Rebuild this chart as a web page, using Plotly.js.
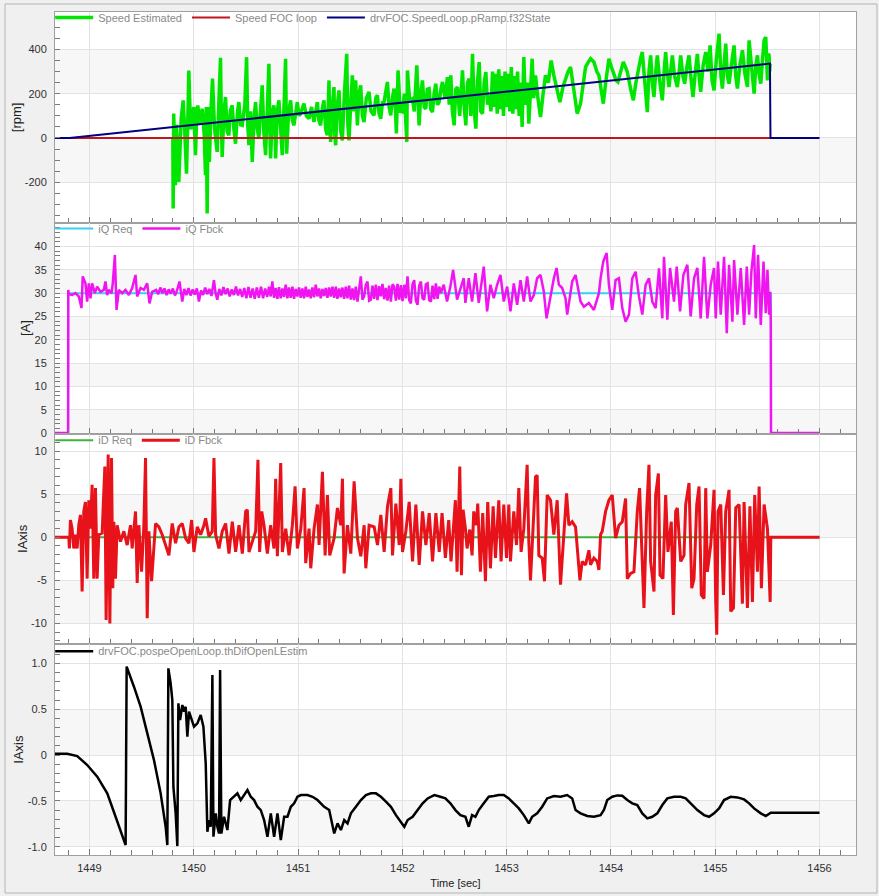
<!DOCTYPE html>
<html>
<head>
<meta charset="utf-8">
<script src="https://cdn.plot.ly/plotly-3.0.1.min.js"></script>
<style>
  html, body { margin: 0; padding: 0; background: #f0f0f0; }
  #plot_window { width: 879px; height: 896px; }
</style>
</head>
<body>
<div id="plot_window"></div>
<script>
// ---- time axis ----
const timeTicks = [1449, 1450, 1451, 1452, 1453, 1454, 1455, 1456];
const timeTickText = ['1449', '1450', '1451', '1452', '1453', '1454', '1455', '1456'];

// ---- panel 1 : speed [rpm] ----
const speedTicks = [-200, 0, 200, 400];
const speedTickText = ['-200', '0', '200', '400'];

const speedEstT = [1449.800, 1449.803, 1449.808, 1449.825, 1449.835, 1449.857, 1449.880, 1449.899, 1449.915, 1449.931,
    1449.945, 1449.953, 1449.970, 1449.985, 1450.000, 1450.017, 1450.030, 1450.039, 1450.060, 1450.081,
    1450.100, 1450.113, 1450.120, 1450.129, 1450.137, 1450.150, 1450.165, 1450.180, 1450.200, 1450.225,
    1450.240, 1450.257, 1450.265, 1450.273, 1450.290, 1450.305, 1450.320, 1450.337, 1450.350, 1450.369,
    1450.385, 1450.401, 1450.420, 1450.433, 1450.450, 1450.465, 1450.490, 1450.507, 1450.518, 1450.529,
    1450.545, 1450.561, 1450.580, 1450.593, 1450.610, 1450.625, 1450.640, 1450.657, 1450.672, 1450.689,
    1450.705, 1450.721, 1450.730, 1450.737, 1450.755, 1450.769, 1450.780, 1450.785, 1450.800, 1450.817,
    1450.835, 1450.849, 1450.865, 1450.881, 1450.891, 1450.910, 1450.929, 1450.945, 1450.961, 1450.980,
    1450.993, 1451.010, 1451.025, 1451.045, 1451.057, 1451.080, 1451.105, 1451.130, 1451.153, 1451.170,
    1451.185, 1451.200, 1451.217, 1451.235, 1451.249, 1451.265, 1451.281, 1451.290, 1451.297, 1451.305,
    1451.313, 1451.330, 1451.345, 1451.352, 1451.361, 1451.375, 1451.393, 1451.410, 1451.425, 1451.445,
    1451.467, 1451.478, 1451.489, 1451.505, 1451.521, 1451.537, 1451.553, 1451.569, 1451.585, 1451.601,
    1451.617, 1451.633, 1451.655, 1451.681, 1451.700, 1451.729, 1451.745, 1451.761, 1451.777, 1451.793,
    1451.810, 1451.825, 1451.840, 1451.857, 1451.873, 1451.889, 1451.905, 1451.921, 1451.935, 1451.943,
    1451.951, 1451.959, 1451.980, 1452.001, 1452.020, 1452.043, 1452.049, 1452.070, 1452.097, 1452.115,
    1452.139, 1452.150, 1452.161, 1452.177, 1452.193, 1452.210, 1452.225, 1452.240, 1452.257, 1452.273,
    1452.289, 1452.305, 1452.321, 1452.337, 1452.353, 1452.370, 1452.385, 1452.410, 1452.433, 1452.450,
    1452.465, 1452.480, 1452.497, 1452.513, 1452.529, 1452.550, 1452.577, 1452.592, 1452.609, 1452.625,
    1452.641, 1452.657, 1452.673, 1452.690, 1452.705, 1452.720, 1452.737, 1452.753, 1452.769, 1452.785,
    1452.801, 1452.817, 1452.833,
    1452.850, 1452.865, 1452.880, 1452.895, 1452.910, 1452.925, 1452.940, 1452.955, 1452.970, 1452.985,
    1453.000, 1453.015, 1453.030, 1453.045, 1453.060, 1453.075, 1453.090, 1453.105, 1453.120, 1453.135,
    1453.149, 1453.165, 1453.180, 1453.200, 1453.213, 1453.230, 1453.245, 1453.260, 1453.277, 1453.300,
    1453.325, 1453.350, 1453.373, 1453.400, 1453.427, 1453.453, 1453.480, 1453.511, 1453.540, 1453.565,
    1453.590, 1453.613, 1453.645, 1453.677, 1453.709, 1453.740, 1453.757, 1453.780, 1453.805, 1453.837,
    1453.865, 1453.885, 1453.910, 1453.927, 1453.950, 1453.981, 1454.005, 1454.029, 1454.050, 1454.067,
    1454.090, 1454.119, 1454.140, 1454.157, 1454.190, 1454.215, 1454.240, 1454.269, 1454.285, 1454.301,
    1454.325, 1454.349, 1454.365, 1454.381, 1454.397, 1454.413, 1454.430, 1454.445, 1454.470, 1454.493,
    1454.510, 1454.525, 1454.540, 1454.557, 1454.573, 1454.589, 1454.610, 1454.637, 1454.655, 1454.669,
    1454.690, 1454.707, 1454.728, 1454.749, 1454.770, 1454.787, 1454.810, 1454.829, 1454.845, 1454.861,
    1454.885, 1454.909, 1454.930, 1454.951, 1454.970, 1454.989, 1455.010, 1455.037, 1455.055, 1455.069,
    1455.085, 1455.101, 1455.117, 1455.133, 1455.155, 1455.181, 1455.197, 1455.213, 1455.237, 1455.261,
    1455.285, 1455.309, 1455.325, 1455.350, 1455.373, 1455.390, 1455.405, 1455.420, 1455.437, 1455.453,
    1455.469, 1455.485, 1455.495, 1455.501, 1455.510, 1455.517, 1455.522, 1455.527];
const speedEstV = [0, -319, 110, -214, 60, -199, 90, 170, 20, -161,
    120, 305, 40, 57, 140, -78, 120, 147, 60, 132,
    20, -168, 140, -341, 140, -108, 120, 268, 40, -63,
    150, 362, 80, -86, 120, 185, 30, 12, 120, 147,
    40, -26, 120, 162, 60, 57, 150, 365, 60, -33,
    120, -108, 100, 162, 40, -3, 120, 238, 30, -78,
    120, 335, 50, -93, 120, 147, 20, -93, 120, 170,
    30, -78, 130, 358, -71, 120, 170, 80, 57, 130,
    162, 100, 110, 140, 155, 100, 87, 140, 72, 120,
    162, 80, 57, 140, 170, 40, 12, 150, 260, 40,
    -18, 150, 230, 20, -33, 140, 215, 30, -11, 200,
    380, 60, -11, 150, 283, 120, 260, 57, 200, 238,
    100, 72, 180, 208, 120, 102, 180, 193, 110, 87,
    160, 162, 200, 253, 140, 102, 180, 223, 120, 20,
    150, 305, 120, 118, 200, -18, 305, 170, 177, 120,
    328, 150, 57, 200, 260, 140, 132, 220, 223, 130,
    117, 200, 245, 150, 162, 220, 253, 180, 275, 150,
    283, 120, 57, 220, 230, 100, 305, 150, 57, 250,
    268, 100, 380, 120, 42, 250, 343, 120, 110, 250,
    298, 150, 193,
    120, 300, 140, 290, 110, 310, 130, 280, 100, 300,
    140, 290, 120, 320, 110, 280, 130, 300, 100, 250,
    50, 365, 150, 250, 65, 200, 358, 180, 283, 180,
    95, 200, 283, 250, 350, 283, 220, 162, 230, 268,
    300, 320, 223, 110, 155, 250, 320, 340, 358, 343,
    300, 283, 200, 155, 250, 358, 320, 283, 260, 253,
    300, 343, 320, 298, 220, 170, 250, 328, 360, 388,
    250, 117, 300, 373, 250, 185, 300, 373, 250, 170,
    300, 388, 300, 230, 300, 373, 280, 230, 300, 373,
    280, 245, 320, 373, 260, 185, 300, 380, 280, 208,
    330, 388, 300, 418, 260, 215, 350, 471, 280, 223,
    330, 426, 280, 245, 330, 418, 280, 223, 330, 396,
    290, 230, 441, 300, 200, 330, 373, 290, 245, 350,
    441, 456, 300, 260, 380, 373, 300, 335];

const speedFocT = [1448.67, 1455.53];
const speedFocV = [0, 0];

const rampT = [1448.67, 1448.81, 1455.525, 1455.53, 1456.0];
const rampV = [0, 0, 336, 0, 0];

// ---- panel 2 : iQ [A] ----
const iqTicks = [0, 5, 10, 15, 20, 25, 30, 35, 40];
const iqTickText = ['0', '5', '10', '15', '20', '25', '30', '35', '40'];

const iqReqT = [1448.67, 1448.796, 1448.797, 1455.533, 1455.535, 1456.0];
const iqReqV = [0, 0, 30, 30, 0, 0];

const iqFbckT = [1448.670, 1448.796, 1448.797,
    1448.802, 1448.834, 1448.866, 1448.898, 1448.924, 1448.936, 1448.962, 1448.978, 1448.994, 1449.010,
    1449.026, 1449.052, 1449.074, 1449.106, 1449.138, 1449.154, 1449.170, 1449.186, 1449.212, 1449.224,
    1449.244, 1449.260, 1449.282, 1449.314, 1449.346, 1449.378, 1449.410, 1449.442, 1449.458, 1449.490,
    1449.522, 1449.554, 1449.576, 1449.602,
    1449.640, 1449.660, 1449.680, 1449.700, 1449.720, 1449.740, 1449.760, 1449.780, 1449.800, 1449.820,
    1449.840, 1449.864, 1449.880, 1449.890, 1449.910, 1449.930, 1449.950, 1449.970, 1449.990, 1450.010,
    1450.030, 1450.050, 1450.070, 1450.090, 1450.110, 1450.130, 1450.150, 1450.170, 1450.194, 1450.210,
    1450.226, 1450.245, 1450.265, 1450.285, 1450.305, 1450.325, 1450.345, 1450.365, 1450.385, 1450.405,
    1450.425, 1450.445, 1450.465, 1450.485, 1450.505, 1450.525, 1450.545, 1450.565, 1450.585, 1450.605,
    1450.625, 1450.645, 1450.665, 1450.685, 1450.705, 1450.722, 1450.738, 1450.754, 1450.770, 1450.786,
    1450.802, 1450.818, 1450.834, 1450.850, 1450.866, 1450.882, 1450.898, 1450.914, 1450.930, 1450.946,
    1450.962, 1450.978, 1450.994, 1451.010, 1451.026, 1451.042, 1451.058, 1451.074, 1451.090, 1451.106,
    1451.122, 1451.138, 1451.154, 1451.170, 1451.186, 1451.202, 1451.218, 1451.234, 1451.250, 1451.266,
    1451.282, 1451.298, 1451.314, 1451.330, 1451.346, 1451.362, 1451.378, 1451.394, 1451.410, 1451.426,
    1451.442, 1451.458, 1451.474, 1451.490, 1451.506, 1451.522, 1451.538, 1451.554, 1451.570, 1451.586,
    1451.602, 1451.618, 1451.634, 1451.650, 1451.666, 1451.682, 1451.698, 1451.714, 1451.730, 1451.746,
    1451.762, 1451.778, 1451.794, 1451.810, 1451.826, 1451.842, 1451.858, 1451.874, 1451.890, 1451.906,
    1451.922, 1451.938, 1451.954, 1451.970, 1451.986, 1452.002, 1452.018, 1452.034, 1452.050, 1452.066,
    1452.082, 1452.098, 1452.114, 1452.130, 1452.146, 1452.162, 1452.178, 1452.194, 1452.210, 1452.226,
    1452.242, 1452.258, 1452.274, 1452.290, 1452.306, 1452.322, 1452.338, 1452.354, 1452.370,
    1452.397, 1452.429, 1452.461, 1452.487, 1452.525, 1452.589, 1452.605, 1452.637, 1452.669, 1452.701,
    1452.733, 1452.765, 1452.781, 1452.813, 1452.845, 1452.877, 1452.909, 1452.941, 1452.973, 1453.005,
    1453.037, 1453.069, 1453.101, 1453.133, 1453.165, 1453.197, 1453.229, 1453.261, 1453.293, 1453.325,
    1453.357, 1453.383, 1453.421, 1453.453, 1453.479, 1453.501, 1453.533, 1453.565, 1453.581, 1453.629,
    1453.661, 1453.709, 1453.741, 1453.789, 1453.837, 1453.885, 1453.901, 1453.927, 1453.959, 1453.981,
    1454.013, 1454.045, 1454.077, 1454.109, 1454.141, 1454.173, 1454.205, 1454.237, 1454.269, 1454.301,
    1454.333, 1454.365, 1454.397, 1454.429, 1454.461, 1454.493, 1454.509, 1454.541, 1454.567, 1454.605,
    1454.631, 1454.663, 1454.695, 1454.733, 1454.765, 1454.797, 1454.829, 1454.861, 1454.893, 1454.925,
    1454.957, 1454.989, 1455.005, 1455.027, 1455.053, 1455.085, 1455.111, 1455.133, 1455.165, 1455.181,
    1455.213, 1455.245, 1455.277, 1455.303, 1455.325, 1455.347, 1455.373, 1455.389, 1455.411, 1455.437,
    1455.463, 1455.485, 1455.501, 1455.517, 1455.527, 1455.533,
    1455.535, 1456.000];
const iqFbckV = [0, 0, 30.7,
    29.8, 29.6, 30.0, 29.3, 26.8, 33.6, 32.1, 28.2, 32.1, 28.9,
    32.1, 30.0, 31.4, 30.3, 30.7, 32.5, 29.6, 30.7, 30.0, 32.1,
    38.2, 26.4, 30.7, 30.0, 30.7, 29.6, 31.1, 33.9, 29.3, 31.1,
    30.7, 32.1, 27.8, 30.3,
    30.7, 29.8, 31.2, 30.0, 31.0, 29.6, 30.8, 29.9, 31.0, 29.5,
    30.6, 32.5, 29.4, 28.2, 30.9, 29.6, 31.1, 29.5, 30.8, 29.7,
    31.0, 28.2, 30.6, 29.6, 31.2, 29.8, 30.9, 29.4, 32.8, 29.9,
    28.6, 30.9, 29.5, 31.3, 29.8, 31.0, 29.3, 30.8, 29.6, 31.4,
    29.5, 30.9, 29.2, 31.1, 28.9, 31.3, 29.0, 31.0, 28.8, 31.2,
    29.0, 31.4, 28.9, 31.0, 29.2, 31.4, 29.3, 32.5, 29.0, 31.1,
    28.8, 31.3, 28.9, 31.0, 29.2, 31.8, 28.9, 31.2, 29.0, 31.4,
    28.8, 30.9, 29.3, 31.2, 29.0, 31.0, 28.9, 31.4, 29.2, 30.8,
    28.9, 31.2, 29.1, 31.8, 29.3, 31.0, 28.9, 30.9, 29.4, 31.1,
    29.0, 31.2, 29.3, 31.4, 29.0, 31.4, 28.8, 31.0, 29.1, 31.2,
    28.8, 31.4, 28.9, 31.6, 28.6, 31.0, 28.5, 31.4, 28.2, 31.3,
    33.6, 28.6, 29.3, 31.8, 32.5, 28.4, 28.6, 31.6, 28.8, 31.8,
    28.5, 31.5, 29.3, 32.0, 28.7, 31.1, 28.4, 31.6, 28.2, 31.9,
    31.4, 28.4, 32.0, 28.6, 31.7, 28.3, 31.8, 28.9, 33.6, 28.5,
    27.8, 31.9, 32.8, 28.4, 27.5, 31.6, 32.5, 28.9, 28.6, 31.9,
    32.1, 28.5, 28.2, 31.6, 28.7, 32.1, 28.8, 31.4, 30.0,
    31.8, 28.2, 31.4, 35.0, 28.6, 33.2, 27.9, 33.2, 28.2, 34.3,
    27.9, 32.5, 35.7, 26.1, 31.8, 28.9, 31.8, 33.9, 28.2, 31.4,
    26.1, 32.1, 27.5, 32.8, 28.2, 33.6, 28.2, 29.6, 33.2, 33.9,
    30.3, 24.6, 29.6, 33.2, 35.4, 31.8, 31.1, 28.9, 25.4, 32.5,
    33.9, 28.2, 27.1, 27.9, 26.4, 30.0, 33.2, 36.8, 38.6, 31.8,
    26.4, 32.8, 33.2, 26.8, 23.9, 25.4, 33.2, 34.6, 29.3, 25.4,
    31.8, 33.2, 28.2, 26.8, 35.3, 24.6, 37.8, 24.3, 35.4, 28.2,
    35.7, 26.1, 33.9, 36.1, 25.0, 33.2, 35.4, 24.6, 37.8, 24.6,
    31.8, 35.4, 24.6, 36.8, 25.4, 37.8, 21.4, 36.1, 23.9, 37.1,
    25.4, 35.4, 23.2, 35.7, 25.4, 34.6, 40.3, 24.6, 38.2, 23.2,
    36.8, 25.7, 35.0, 25.4, 30.3, 23.9,
    0, 0];

// ---- panel 3 : iD ----
const idTicks = [-10, -5, 0, 5, 10];
const idTickText = ['-10', '-5', '0', '5', '10'];

const idReqT = [1448.67, 1456.0];
const idReqV = [0, 0];

const idFbckT = [1448.670, 1448.802,
    1448.808, 1448.818, 1448.834, 1448.850, 1448.866, 1448.882, 1448.898, 1448.914, 1448.930, 1448.946,
    1448.962, 1448.978, 1448.994, 1449.010, 1449.026, 1449.042, 1449.058, 1449.074, 1449.090, 1449.122,
    1449.148, 1449.160, 1449.180, 1449.196, 1449.212, 1449.224, 1449.234, 1449.250, 1449.266, 1449.298,
    1449.330, 1449.362, 1449.394, 1449.410, 1449.442, 1449.458, 1449.474, 1449.500, 1449.522, 1449.538,
    1449.554, 1449.570, 1449.596, 1449.612, 1449.634, 1449.666, 1449.698, 1449.730, 1449.762, 1449.794,
    1449.826, 1449.858, 1449.890, 1449.922, 1449.954, 1449.980, 1450.002, 1450.034, 1450.066, 1450.098,
    1450.114, 1450.146, 1450.178, 1450.194, 1450.210, 1450.242, 1450.274, 1450.306, 1450.338, 1450.370,
    1450.402, 1450.434, 1450.466, 1450.498, 1450.514, 1450.530, 1450.562, 1450.594, 1450.616, 1450.632,
    1450.652, 1450.674, 1450.706, 1450.738, 1450.770, 1450.786, 1450.802, 1450.834, 1450.850, 1450.882,
    1450.914, 1450.946, 1450.972, 1450.994, 1451.026, 1451.058, 1451.074, 1451.106, 1451.122, 1451.154,
    1451.186, 1451.202, 1451.234, 1451.260, 1451.282, 1451.304, 1451.346, 1451.378, 1451.410, 1451.426,
    1451.442, 1451.474, 1451.506, 1451.538, 1451.570, 1451.602, 1451.634, 1451.650, 1451.682, 1451.730,
    1451.762, 1451.794, 1451.826, 1451.858, 1451.890, 1451.906, 1451.938, 1451.970, 1451.986, 1452.002,
    1452.034, 1452.066, 1452.098, 1452.130, 1452.162, 1452.194, 1452.226, 1452.258, 1452.290, 1452.322,
    1452.354,
    1452.381, 1452.413, 1452.445, 1452.467, 1452.493, 1452.509, 1452.525, 1452.551, 1452.567, 1452.583,
    1452.605, 1452.621, 1452.647, 1452.669, 1452.685, 1452.711, 1452.723, 1452.749, 1452.771, 1452.797,
    1452.819, 1452.845, 1452.871, 1452.893, 1452.925, 1452.947, 1452.973, 1452.999, 1453.021, 1453.037,
    1453.069, 1453.095, 1453.117, 1453.139, 1453.165, 1453.197, 1453.213, 1453.229, 1453.255, 1453.277,
    1453.293, 1453.309, 1453.341, 1453.363, 1453.389, 1453.421, 1453.453, 1453.485, 1453.517, 1453.549,
    1453.575, 1453.597, 1453.629, 1453.661, 1453.677, 1453.703, 1453.725, 1453.757, 1453.789, 1453.805,
    1453.837, 1453.869, 1453.885, 1453.901, 1453.917, 1453.949, 1453.981, 1454.013, 1454.045, 1454.077,
    1454.109, 1454.141, 1454.157, 1454.189, 1454.221, 1454.253, 1454.275, 1454.291, 1454.317, 1454.343,
    1454.365, 1454.381, 1454.413, 1454.429, 1454.455, 1454.471, 1454.499, 1454.525, 1454.547, 1454.579,
    1454.599, 1454.621, 1454.637, 1454.669, 1454.701, 1454.717, 1454.749, 1454.775, 1454.797, 1454.823,
    1454.845, 1454.867, 1454.893, 1454.909, 1454.925, 1454.957, 1454.989, 1455.005, 1455.015, 1455.027,
    1455.053, 1455.079, 1455.101, 1455.133, 1455.149, 1455.175, 1455.197, 1455.229, 1455.261, 1455.277,
    1455.309, 1455.333, 1455.357, 1455.379, 1455.405, 1455.421, 1455.443, 1455.469, 1455.501, 1455.527,
    1455.533, 1456.000];
const idFbckV = [0, 0,
    -1.3, 2.0, 1.0, -1.3, 0.3, -1.3, 1.4, 2.6, -6.3, 3.0,
    4.1, -4.8, 4.3, 1.0, 6.1, -4.8, 5.7, -4.8, 0.3, 0.5,
    8.2, -9.6, 9.6, -10.0, 9.2, -5.9, 1.8, -4.8, 1.4, -0.5,
    0.7, -0.9, 1.4, -1.3, 3.0, -5.3, 1.4, -4.0, 1.4, 9.2,
    -9.4, 0.7, -5.1, -2.4, 1.6, 1.2, 0.3, -0.9, -2.1, 1.6,
    -0.7, 1.2, 1.6, -0.1, -0.7, 2.0, -1.7, 1.2, 0.3, 1.4,
    2.2, 0.1, 0.7, 9.2, 0.3, -1.3, 0.7, 1.6, -1.9, 1.8,
    -1.7, 1.4, -1.9, 3.0, 3.2, -1.7, -0.5, 0.7, 9.0, -1.7,
    3.0, 1.4, -1.9, 1.4, -1.3, 6.8, -2.2, 8.6, -1.7, 1.0,
    -2.1, 1.4, 5.9, -1.3, 0.9, 5.7, -3.0, 1.0, -3.6, 1.0,
    3.8, -0.9, 7.6, -2.1, 4.9, -2.1, -0.1, 3.4, 1.4, 6.8,
    -4.2, 1.4, -1.9, 6.5, -0.1, -2.2, 1.4, -3.6, 1.4, 1.2,
    -0.9, 2.6, -1.7, 3.6, 5.7, -2.1, 3.9, -0.9, 6.8, -1.7,
    0.7, 4.1, -2.8, 3.8, -3.2, 3.0, -0.9, 2.8, -2.8, 2.8,
    -1.7,
    2.8, -2.4, 2.0, -2.8, 1.0, 4.3, -4.0, 8.2, -4.4, 3.2,
    1.0, -1.3, 0.9, -2.1, 3.0, 1.4, 3.9, -4.0, 2.8, -5.1,
    4.1, -3.6, 3.6, -2.4, 4.3, -2.8, 3.8, -2.4, 3.8, -2.8,
    3.0, -0.9, 5.7, -1.7, 1.0, 8.4, -0.5, -5.0, 1.4, 7.0,
    7.2, -2.1, -2.4, -5.1, 4.9, 4.3, 0.3, 4.3, -5.5, 1.0,
    5.1, 1.4, 1.8, 1.2, -0.9, -5.0, -2.8, -3.2, -1.5, -3.2,
    -2.4, -2.8, -3.8, 0.3, 0.7, 3.0, 4.3, 4.9, -0.1, 1.4,
    1.8, 4.5, -4.8, -4.2, -4.0, 3.0, 5.7, 1.0, -8.2, 3.0,
    8.4, -2.8, -6.3, 4.9, 7.4, -4.4, -4.8, 4.9, -1.7, 1.8,
    -9.0, 3.0, 3.4, -2.8, -2.1, 3.8, 6.3, -5.9, -4.8, 3.8,
    5.9, -6.7, -7.1, 5.7, -4.0, -0.9, 5.5, -7.5, -11.3, 3.0,
    3.8, -6.7, 3.0, 5.5, -8.6, -8.2, 3.4, 3.8, -7.7, 4.1,
    -8.2, 3.6, -7.5, 4.9, -4.0, 5.9, -5.9, 3.8, 1.0, -7.5,
    0, 0];

// ---- panel 4 : open loop angle difference ----
const angTicks = [-1, -0.5, 0, 0.5, 1];
const angTickText = ['-1.0', '-0.5', '0', '0.5', '1.0'];

const angT = [1448.669, 1448.787, 1448.883, 1448.979, 1449.075, 1449.171, 1449.251, 1449.315, 1449.347, 1449.357,
    1449.395, 1449.427, 1449.491, 1449.555, 1449.619, 1449.683, 1449.731, 1449.747, 1449.757, 1449.779,
    1449.795, 1449.805, 1449.827, 1449.843, 1449.853, 1449.869, 1449.891, 1449.907, 1449.923, 1449.939,
    1449.955, 1449.971, 1450.003, 1450.035, 1450.067, 1450.093, 1450.115, 1450.131, 1450.147, 1450.163,
    1450.179, 1450.189, 1450.211, 1450.227, 1450.243, 1450.253, 1450.265, 1450.291, 1450.323, 1450.349,
    1450.387, 1450.419, 1450.451, 1450.483, 1450.515, 1450.547, 1450.579, 1450.611, 1450.643, 1450.675,
    1450.707, 1450.739, 1450.771, 1450.803, 1450.835, 1450.867, 1450.899, 1450.931, 1450.963, 1450.995,
    1451.027, 1451.059, 1451.091, 1451.139, 1451.187, 1451.251, 1451.299, 1451.347, 1451.379, 1451.411,
    1451.443, 1451.475, 1451.507, 1451.555, 1451.603, 1451.651, 1451.699, 1451.747, 1451.795, 1451.843,
    1451.891, 1451.939, 1451.987, 1452.019, 1452.051, 1452.099, 1452.147, 1452.195, 1452.243, 1452.307,
    1452.365, 1452.413, 1452.461, 1452.509, 1452.557, 1452.605, 1452.637, 1452.669, 1452.701, 1452.733,
    1452.781, 1452.829, 1452.877, 1452.925, 1452.973, 1453.021, 1453.069, 1453.117, 1453.165, 1453.213,
    1453.245, 1453.293, 1453.341, 1453.389, 1453.453, 1453.517, 1453.581, 1453.629, 1453.661, 1453.709,
    1453.773, 1453.837, 1453.901, 1453.933, 1453.965, 1454.013, 1454.061, 1454.109, 1454.157, 1454.205,
    1454.253, 1454.301, 1454.349, 1454.397, 1454.445, 1454.493, 1454.541, 1454.605, 1454.669, 1454.717,
    1454.765, 1454.829, 1454.893, 1454.941, 1454.989, 1455.037, 1455.085, 1455.149, 1455.213, 1455.277,
    1455.325, 1455.373, 1455.437, 1455.485, 1455.533, 1455.565, 1456.000];
const angV = [0.015, 0.015, -0.011, -0.109, -0.236, -0.418, -0.673, -0.891, -0.982, 0.964,
    0.855, 0.745, 0.527, 0.236, -0.055, -0.418, -0.782, -0.982, 0.945, 0.782,
    0.6, -0.345, -0.636, -0.993, 0.564, 0.382, 0.545, 0.473, 0.527, 0.2,
    0.473, 0.418, 0.309, 0.345, 0.436, 0.309, -0.091, -0.836, -0.709, -0.782,
    0.873, -0.891, -0.636, -0.782, -0.855, 0.927, -0.855, -0.673, -0.818, -0.491,
    -0.455, -0.418, -0.491, -0.436, -0.382, -0.455, -0.491, -0.564, -0.6, -0.709,
    -0.891, -0.636, -0.891, -0.636, -0.927, -0.673, -0.673, -0.564, -0.527, -0.455,
    -0.436, -0.436, -0.436, -0.455, -0.491, -0.564, -0.6, -0.855, -0.745, -0.818,
    -0.709, -0.745, -0.636, -0.564, -0.491, -0.436, -0.418, -0.418, -0.455, -0.509,
    -0.564, -0.655, -0.727, -0.782, -0.709, -0.673, -0.6, -0.527, -0.473, -0.436,
    -0.455, -0.473, -0.527, -0.6, -0.655, -0.673, -0.782, -0.655, -0.673, -0.6,
    -0.527, -0.455, -0.447, -0.436, -0.436, -0.473, -0.527, -0.582, -0.655, -0.745,
    -0.673, -0.636, -0.564, -0.473, -0.447, -0.455, -0.436, -0.473, -0.6, -0.636,
    -0.665, -0.673, -0.655, -0.6, -0.491, -0.455, -0.44, -0.444, -0.491, -0.527,
    -0.545, -0.636, -0.691, -0.673, -0.636, -0.545, -0.473, -0.455, -0.455, -0.473,
    -0.527, -0.6, -0.655, -0.673, -0.636, -0.582, -0.491, -0.455, -0.462, -0.484,
    -0.527, -0.582, -0.636, -0.665, -0.629, -0.629, -0.629];

// ---- styling ----
const fontFamily = '"Liberation Sans", Arial, sans-serif';
const gridGrey = '#e3e3e3';
const frameGrey = '#a0a0a0';
const tickGrey = '#7a7a7a';

function makeX(anchor, showLabels) {
    return {
        anchor: anchor,
        range: [1448.67, 1456.35],
        tickmode: 'array', tickvals: timeTicks, ticktext: timeTickText,
        showticklabels: showLabels,
        ticks: 'inside', ticklen: 6, tickcolor: tickGrey,
        ticklabelstandoff: 3,
        minor: {tickmode: 'linear', tick0: 1449, dtick: 0.2, ticks: 'inside', ticklen: 5, tickcolor: tickGrey, showgrid: false},
        showgrid: true, gridcolor: gridGrey,
        zeroline: false,
        showline: true, mirror: true, linecolor: frameGrey,
        tickfont: {size: 11, color: '#303030'},
        fixedrange: true
    };
}

function makeY(anchor, domain, range, vals, text, minorStep, title, standoff) {
    return {
        anchor: anchor,
        domain: domain,
        range: range,
        tickmode: 'array', tickvals: vals, ticktext: text,
        ticks: 'inside', ticklen: 5, tickcolor: tickGrey,
        ticklabelstandoff: 5,
        minor: {tickmode: 'linear', tick0: 0, dtick: minorStep, ticks: 'inside', ticklen: 5, tickcolor: tickGrey, showgrid: false},
        showgrid: true, gridcolor: gridGrey,
        zeroline: false,
        showline: true, mirror: true, linecolor: frameGrey,
        tickfont: {size: 11, color: '#303030'},
        title: {text: title, font: {size: 13, color: '#202020'}, standoff: standoff},
        fixedrange: true
    };
}

function makeLegend(yTop) {
    return {
        orientation: 'h',
        x: -0.006, xanchor: 'left',
        y: yTop, yanchor: 'top',
        bgcolor: 'rgba(0,0,0,0)',
        borderwidth: 0,
        itemwidth: 38,
        font: {size: 11, color: '#8a8a8a', family: fontFamily}
    };
}

// alternating light bands between major y gridlines
function bands(yref, ticks) {
    let out = [];
    for (let i = 0; i + 1 < ticks.length; i += 2) {
        out.push({type: 'rect', xref: 'paper', yref: yref, x0: 0, x1: 1, y0: ticks[i], y1: ticks[i + 1],
                  fillcolor: '#f7f7f7', line: {width: 0}, layer: 'below'});
    }
    return out;
}

const traces = [
    {x: speedEstT, y: speedEstV, name: 'Speed Estimated', xaxis: 'x', yaxis: 'y', legend: 'legend',
     mode: 'lines', line: {color: '#00e600', width: 3.5}},
    {x: speedFocT, y: speedFocV, name: 'Speed FOC loop', xaxis: 'x', yaxis: 'y', legend: 'legend',
     mode: 'lines', line: {color: '#c0161c', width: 2}},
    {x: rampT, y: rampV, name: 'drvFOC.SpeedLoop.pRamp.f32State', xaxis: 'x', yaxis: 'y', legend: 'legend',
     mode: 'lines', line: {color: '#000080', width: 2}},

    {x: iqReqT, y: iqReqV, name: 'iQ Req', xaxis: 'x2', yaxis: 'y2', legend: 'legend2',
     mode: 'lines', line: {color: '#36d2f2', width: 2}},
    {x: iqFbckT, y: iqFbckV, name: 'iQ Fbck', xaxis: 'x2', yaxis: 'y2', legend: 'legend2',
     mode: 'lines', line: {color: '#f014f0', width: 2.5}},

    {x: idReqT, y: idReqV, name: 'iD Req', xaxis: 'x3', yaxis: 'y3', legend: 'legend3',
     mode: 'lines', line: {color: '#3cb43c', width: 2}},
    {x: idFbckT, y: idFbckV, name: 'iD Fbck', xaxis: 'x3', yaxis: 'y3', legend: 'legend3',
     mode: 'lines', line: {color: '#e8121a', width: 3}},

    {x: angT, y: angV, name: 'drvFOC.pospeOpenLoop.thDifOpenLEstim', xaxis: 'x4', yaxis: 'y4', legend: 'legend4',
     mode: 'lines', line: {color: '#000000', width: 2.5}}
];

const layout = {
    width: 879,
    height: 896,
    margin: {l: 55, r: 23, t: 12, b: 41, autoexpand: false},
    paper_bgcolor: '#f0f0f0',
    plot_bgcolor: '#ffffff',
    font: {family: fontFamily, size: 11, color: '#303030'},
    xaxis: makeX('y', false),
    xaxis2: makeX('y2', false),
    xaxis3: makeX('y3', false),
    xaxis4: Object.assign(makeX('y4', true), {title: {text: 'Time [sec]', font: {size: 11, color: '#202020'}, standoff: 6}}),
    yaxis: makeY('x', [0.75, 1.0], [-383, 569], speedTicks, speedTickText, 50, '[rpm]', 0),
    yaxis2: makeY('x2', [0.5, 0.75], [-0.1, 45.1], iqTicks, iqTickText, 1, '[A]', 0),
    yaxis3: makeY('x3', [0.25, 0.5], [-12.41, 12.04], idTicks, idTickText, 1, 'IAxis', 0),
    yaxis4: makeY('x4', [0.0, 0.25], [-1.09, 1.208], angTicks, angTickText, 0.1, 'IAxis', 1),
    legend: makeLegend(1.0107),
    legend2: makeLegend(0.7604),
    legend3: makeLegend(0.5093),
    legend4: makeLegend(0.259),
    shapes: [].concat(
        bands('y', speedTicks),
        bands('y2', iqTicks),
        bands('y3', idTicks),
        bands('y4', angTicks),
        [{type: 'rect', xref: 'paper', yref: 'paper', x0: -0.0624, x1: 1.0262, y0: -0.0451, y1: 1.0095,
          line: {color: '#b4b4b4', width: 1}, fillcolor: 'rgba(0,0,0,0)', layer: 'below'}]
    ),
    showlegend: true
};

Plotly.newPlot('plot_window', traces, layout, {displayModeBar: false, staticPlot: true});
</script>
</body>
</html>
